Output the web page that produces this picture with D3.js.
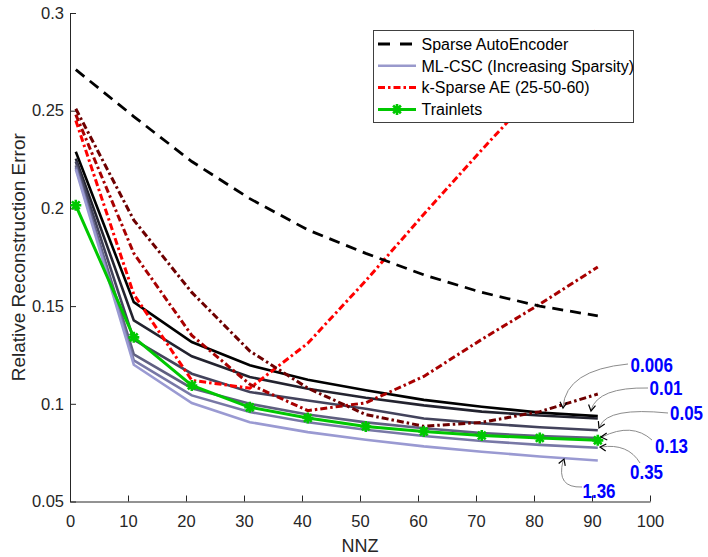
<!DOCTYPE html>
<html>
<head>
<meta charset="utf-8">
<script src="https://cdn.jsdelivr.net/npm/d3@7"></script>
<style>
  body { margin: 0; background: #fff; }
  svg { display: block; font-family: "Liberation Sans", Arial, sans-serif; }
</style>
</head>
<body>
<script>
// data
var nnz = [1, 11, 21, 31, 41, 51, 61, 71, 81, 91];
var xTicks = [0, 10, 20, 30, 40, 50, 60, 70, 80, 90, 100];
var yTicks = [0.05, 0.1, 0.15, 0.2, 0.25, 0.3];

var sparseAE = [0.271, 0.247, 0.224, 0.205, 0.189, 0.177, 0.166, 0.157, 0.150, 0.145];

var kSparseA = [0.245, 0.156, 0.112, 0.108, 0.131, 0.163, 0.197, 0.230, 0.262, 0.292];
var kSparseB = [0.248, 0.177, 0.135, 0.110, 0.0965, 0.1005, 0.114, 0.133, 0.151, 0.170];
var kSparseC = [0.251, 0.194, 0.157, 0.127, 0.108, 0.0945, 0.0885, 0.0905, 0.096, 0.105];

var mlcsc0006 = [0.229, 0.152, 0.1316, 0.1197, 0.1123, 0.1069, 0.102, 0.0985, 0.0955, 0.0937];
var mlcsc001 = [0.2255, 0.1427, 0.1243, 0.1137, 0.1077, 0.1031, 0.0992, 0.096, 0.094, 0.0925];
var mlcsc005 = [0.224, 0.1328, 0.1154, 0.106, 0.1017, 0.0975, 0.0925, 0.090, 0.088, 0.0865];
var mlcsc013 = [0.222, 0.1253, 0.108, 0.100, 0.0945, 0.0905, 0.0875, 0.085, 0.0835, 0.0825];
var mlcsc035 = [0.221, 0.1222, 0.1043, 0.0958, 0.0906, 0.0867, 0.0835, 0.081, 0.079, 0.0775];
var mlcsc136 = [0.220, 0.120, 0.1004, 0.0906, 0.0855, 0.0816, 0.0782, 0.0755, 0.073, 0.071];

var trainlets = [0.2016, 0.134, 0.1094, 0.0982, 0.0927, 0.0884, 0.0858, 0.0838, 0.0825, 0.0813];

var legendLabels = ['Sparse AutoEncoder', 'ML-CSC (Increasing Sparsity)', 'k-Sparse AE (25-50-60)', 'Trainlets'];

var W = 708, H = 557;
var svg = d3.select('body').append('svg').attr('width', W).attr('height', H);

var x = d3.scaleLinear().domain([0, 100]).range([70, 650]);
var y = d3.scaleLinear().domain([0.05, 0.3]).range([501.5, 13]);

var line = d3.line()
  .x(function(d, i){ return x(nnz[i]); })
  .y(function(d){ return y(d); });

// axes (matlab style, ticks inside, box off)
var xAxis = svg.append('g')
  .attr('transform', 'translate(0,' + y(0.05) + ')')
  .call(d3.axisBottom(x).tickValues(xTicks).tickSizeInner(-6).tickSizeOuter(0).tickPadding(14));
var yAxis = svg.append('g')
  .attr('transform', 'translate(' + x(0) + ',0)')
  .call(d3.axisLeft(y).tickValues(yTicks).tickSizeInner(-6).tickSizeOuter(0).tickPadding(6)
    .tickFormat(function(d){ return String(+d.toFixed(2)); }));
[xAxis, yAxis].forEach(function(g){
  g.select('.domain').attr('stroke', '#262626');
  g.selectAll('.tick line').attr('stroke', '#262626');
  g.selectAll('.tick text').attr('fill', '#262626').attr('font-size', 16.5)
    .attr('font-family', '"Liberation Sans", Arial, sans-serif');
});

svg.append('text')
  .attr('x', x(50)).attr('y', 552)
  .attr('text-anchor', 'middle').attr('font-size', 18).attr('fill', '#262626')
  .text('NNZ');
svg.append('text')
  .attr('transform', 'translate(25,' + y(0.175) + ') rotate(-90)')
  .attr('text-anchor', 'middle').attr('font-size', 19).attr('fill', '#262626')
  .text('Relative Reconstruction Error');

// ML-CSC family, black to lavender
var mlSeries = [mlcsc0006, mlcsc001, mlcsc005, mlcsc013, mlcsc035, mlcsc136];
var mlColors = ['#000000', '#23232f', '#43435c', '#5f5f80', '#7878a6', '#9a9ad2'];
svg.append('g').selectAll('path').data(mlSeries).enter().append('path')
  .attr('d', line)
  .attr('fill', 'none')
  .attr('stroke-width', 2.6)
  .attr('stroke', function(d, i){ return mlColors[i]; });

// k-sparse AE
var kSeries = [kSparseA, kSparseB, kSparseC];
var kColors = ['#ff0000', '#a80000', '#6e0000'];
svg.append('g').selectAll('path').data(kSeries).enter().append('path')
  .attr('d', line)
  .attr('fill', 'none')
  .attr('stroke-width', 3)
  .attr('stroke-dasharray', '7,3,2.5,3')
  .attr('stroke', function(d, i){ return kColors[i]; });

// sparse autoencoder
svg.append('path')
  .attr('d', line(sparseAE))
  .attr('fill', 'none')
  .attr('stroke', '#000')
  .attr('stroke-width', 2.8)
  .attr('stroke-dasharray', '11,7');

// trainlets
var green = '#00c800';
function asterisk(cx, cy, r){
  var a = r * 0.7071;
  return 'M' + (cx - r) + ',' + cy + 'H' + (cx + r) +
    'M' + cx + ',' + (cy - r) + 'V' + (cy + r) +
    'M' + (cx - a) + ',' + (cy - a) + 'L' + (cx + a) + ',' + (cy + a) +
    'M' + (cx - a) + ',' + (cy + a) + 'L' + (cx + a) + ',' + (cy - a);
}
svg.append('path')
  .attr('d', line(trainlets))
  .attr('fill', 'none')
  .attr('stroke', green)
  .attr('stroke-width', 3);
svg.append('g').selectAll('path').data(trainlets).enter().append('path')
  .attr('d', function(d, i){ return asterisk(x(nnz[i]), y(d), 5.5); })
  .attr('stroke', green)
  .attr('stroke-width', 2.6);

// legend
var lg = svg.append('g');
lg.append('rect')
  .attr('x', 373.5).attr('y', 30.5).attr('width', 260).attr('height', 92)
  .attr('fill', '#fff').attr('stroke', '#404040').attr('stroke-width', 1);
var rowY = function(i){ return 44 + i * 21.8; };
var legendStyles = [
  { color: '#000', dash: '12,10', width: 2.8 },
  { color: '#9999cc', dash: null, width: 2.6 },
  { color: '#ff0000', dash: '7,3,2.5,3', width: 3 },
  { color: green, dash: null, width: 3 }
];
legendLabels.forEach(function(label, i){
  var s = legendStyles[i];
  lg.append('line')
    .attr('x1', 378).attr('x2', 416).attr('y1', rowY(i)).attr('y2', rowY(i))
    .attr('stroke', s.color).attr('stroke-width', s.width)
    .attr('stroke-dasharray', s.dash);
  lg.append('text')
    .attr('x', 421.5).attr('y', rowY(i)).attr('dy', '0.36em')
    .attr('font-size', 16).attr('fill', '#000')
    .text(label);
});
lg.append('path')
  .attr('d', asterisk(397, rowY(3), 5.5))
  .attr('stroke', green).attr('stroke-width', 2.6);

// annotations for the ML-CSC sparsity levels (tall bold text, stretched vertically)
var levelLabels = ['0.006', '0.01', '0.05', '0.13', '0.35', '1.36'];
var notes = [
  { tx: 630.5, ty: 371.5, curve: 'M628,364 Q566,370 563,407', tip: [563, 408], ang: 95 },
  { tx: 649.5, ty: 395, curve: 'M648,388 Q598,387 591,410', tip: [591, 411], ang: 100 },
  { tx: 670, ty: 420, curve: 'M668,413 Q608,407 600,426', tip: [599, 428], ang: 115 },
  { tx: 655, ty: 452.5, curve: 'M652,440 Q632,422 602,437', tip: [601, 437], ang: 175 },
  { tx: 630, ty: 479, curve: 'M640,463 Q628,443 601,447', tip: [600, 447], ang: 185 },
  { tx: 582.5, ty: 498, curve: 'M582,487 Q556,488 563,461', tip: [564, 459], ang: -70 }
];
var ag = svg.append('g');
notes.forEach(function(n, i){
  ag.append('path').attr('d', n.curve)
    .attr('fill', 'none').attr('stroke', '#8c8c8c').attr('stroke-width', 1);
  ag.append('path')
    .attr('d', 'M-6,-3.5 L0,0 L-6,3.5')
    .attr('transform', 'translate(' + n.tip[0] + ',' + n.tip[1] + ') rotate(' + n.ang + ')')
    .attr('fill', 'none').attr('stroke', '#000').attr('stroke-width', 1.2);
  ag.append('text')
    .attr('transform', 'translate(' + n.tx + ',' + n.ty + ') scale(0.97,1.2)')
    .attr('font-family', '"Liberation Sans", Arial, sans-serif')
    .attr('font-weight', 'bold').attr('font-size', 17.5)
    .attr('fill', '#0000ff')
    .text(levelLabels[i]);
});
</script>
</body>
</html>
